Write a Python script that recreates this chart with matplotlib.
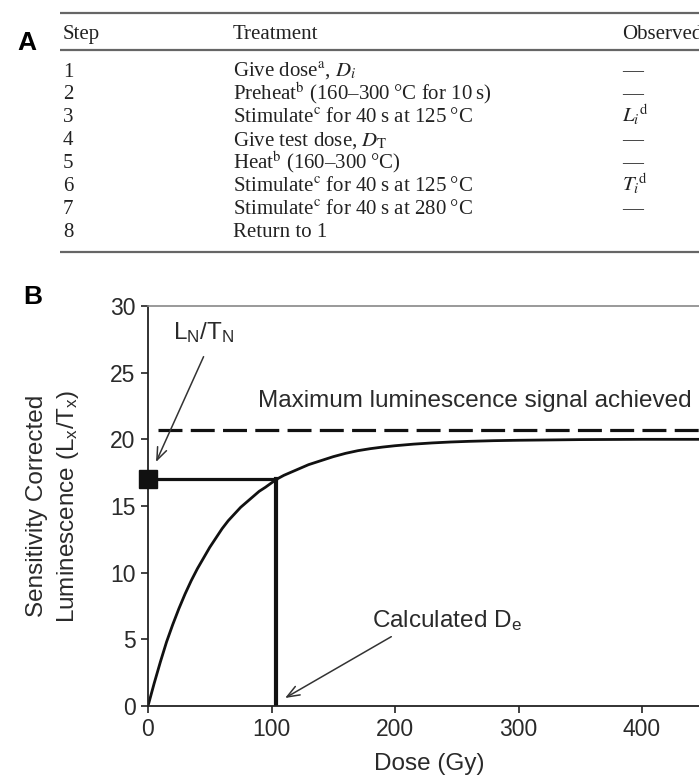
import matplotlib
matplotlib.use("Agg")
import matplotlib.pyplot as plt

# --- Table (panel A) ---
steps = ["1", "2", "3", "4", "5", "6", "7", "8"]
treatments = [
    r"Give dose$^{\mathrm{a}}$, $D_i$",
    "Preheat$^{\\mathrm{b}}$ (160\u2013300\u2009\u00b0C for 10\u2009s)",
    "Stimulate$^{\\mathrm{c}}$ for 40\u2009s at 125\u2009\u00b0C",
    r"Give test dose, $D_{\mathrm{T}}$",
    "Heat$^{\\mathrm{b}}$ (160\u2013300\u2009\u00b0C)",
    "Stimulate$^{\\mathrm{c}}$ for 40\u2009s at 125\u2009\u00b0C",
    "Stimulate$^{\\mathrm{c}}$ for 40\u2009s at 280\u2009\u00b0C",
    "Return to 1",
]
observed = ["\u2014", "\u2014", r"$L_i{}^{\mathrm{d}}$", "\u2014", "\u2014",
            r"$T_i{}^{\mathrm{d}}$", "\u2014", ""]

# --- Dose response curve (panel B) ---
dose = [0, 5, 10, 15, 20, 25, 30, 35, 40, 45, 50, 55, 60, 65, 70, 75, 80, 85,
        90, 95, 104, 110, 120, 130, 140, 150, 160, 170, 180, 190, 200, 215,
        230, 245, 260, 280, 300, 350, 400, 460]
signal = [0, 1.7, 3.3, 4.8, 6.1, 7.3, 8.4, 9.4, 10.3, 11.1, 11.9, 12.6, 13.3,
          13.9, 14.4, 14.9, 15.3, 15.7, 16.1, 16.4, 17.0, 17.3, 17.7, 18.1,
          18.4, 18.7, 18.95, 19.15, 19.3, 19.42, 19.52, 19.64, 19.73, 19.8,
          19.85, 19.9, 19.93, 19.98, 20.0, 20.0]
ln_tn = 17.0
de = 104
max_signal = 20.7

plt.rcParams['font.family'] = ['Liberation Sans', 'DejaVu Sans']
plt.rcParams['mathtext.fontset'] = 'custom'
plt.rcParams['mathtext.rm'] = 'Liberation Sans'
plt.rcParams['mathtext.it'] = 'Liberation Sans:italic'

W, H = 699, 778
fig = plt.figure(figsize=(W / 100, H / 100), dpi=100)

# table drawn on a pixel-coordinate overlay
at = fig.add_axes([0, 0, 1, 1])
at.set_xlim(0, W)
at.set_ylim(H, 0)
at.axis("off")

serif = ['Liberation Serif', 'DejaVu Serif']
tcol = '#222222'
fs_t = 15
for yl in [12.5, 50, 252]:
    at.plot([60, W], [yl, yl], color='#666666', lw=1.6, solid_capstyle='butt')
hy = 38.5
at.text(63, hy, "Step", family=serif, fontsize=fs_t, color=tcol, va='baseline')
at.text(233, hy, "Treatment", family=serif, fontsize=fs_t, color=tcol, va='baseline')
at.text(622, hy, "Observed", family=serif, fontsize=fs_t, color=tcol, va='baseline')
for i in range(len(steps)):
    yb = 70 + i * 22.9 + 6.5
    at.text(63, yb, steps[i], family=serif, fontsize=fs_t, color=tcol, va='baseline')
    at.text(233, yb, treatments[i], family=serif, fontsize=fs_t, color=tcol,
            va='baseline', math_fontfamily='stix')
    at.text(622, yb, observed[i], family=serif, fontsize=fs_t, color=tcol,
            va='baseline', math_fontfamily='stix')

fig.text(27 / W, 1 - 43 / H, "A", fontsize=19, fontweight='bold', ha='center', va='center')
fig.text(33 / W, 1 - 297 / H, "B", fontsize=19, fontweight='bold', ha='center', va='center')

# --- plot ---
ax = fig.add_axes([148 / W, 1 - 706 / H, 455 * 1.235 / W, 400 / H])
ax.plot(dose, signal, color='#111111', lw=2)
ax.axhline(max_signal, xmin=8 / 455, color='#111111', lw=2.3, dashes=(7.5, 2.6))
ax.plot([0, de], [ln_tn, ln_tn], color='#111111', lw=2.3)
ax.plot([de, de], [ln_tn, 0], color='#111111', lw=3)
ax.plot([0], [ln_tn], 's', ms=13, color='#111111', clip_on=False, zorder=5)

ax.set_xlim(0, 455)
ax.set_ylim(0, 30)
ax.set_xticks([0, 100, 200, 300, 400])
ax.set_yticks([0, 5, 10, 15, 20, 25, 30])
ax.tick_params(direction='out', length=5, width=1.2, color='#222222',
               labelsize=16.5, labelcolor='#2a2a2a', pad=4)
ax.spines['right'].set_visible(False)
ax.spines['top'].set_color('#888888')
ax.spines['top'].set_linewidth(1.2)
for s in ['left', 'bottom']:
    ax.spines[s].set_color('#222222')
    ax.spines[s].set_linewidth(1.3)
ax.set_xlabel("Dose (Gy)", fontsize=17.5, color='#2a2a2a', labelpad=8)

fig.text(53.5 / W, 1 - 506 / H,
         "Sensitivity Corrected\nLuminescence (L$_{\\mathrm{x}}$/T$_{\\mathrm{x}}$)",
         rotation=90, ha='center', va='center', multialignment='center',
         fontsize=17.5, color='#2a2a2a', linespacing=1.38)

ax.text(89, 22.9, "Maximum luminescence signal achieved", fontsize=17.5,
        color='#2a2a2a', va='center')
ax.text(45, 28.0, r"L$_{\mathrm{N}}$/T$_{\mathrm{N}}$", fontsize=17.5,
        color='#2a2a2a', ha='center', va='center')
ax.text(242, 6.4, r"Calculated D$_{\mathrm{e}}$", fontsize=17.5,
        color='#2a2a2a', ha='center', va='center')

arrow = dict(arrowstyle='->,head_length=0.9,head_width=0.35', lw=1.1, color='#333333',
             shrinkA=0, shrinkB=0)
ax.annotate("", xy=(6.5, 18.3), xytext=(45, 26.2), arrowprops=arrow)
ax.annotate("", xy=(111, 0.6), xytext=(197, 5.2), arrowprops=arrow)

fig.savefig("out.png", dpi=100)
